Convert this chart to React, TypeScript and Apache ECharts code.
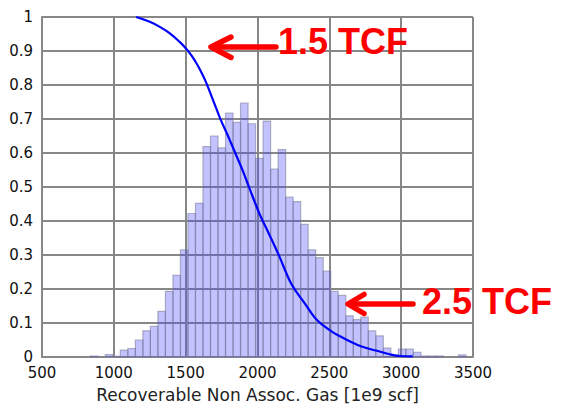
import React, { useEffect, useRef } from "react";
import * as echarts from "echarts";

// Histogram: bins start at BIN_START with width BIN_WIDTH (1e9 scf)
const BIN_START = 836;
const BIN_WIDTH = 52.3;
const binHeights = [
  0.003, 0, 0.007, 0.002, 0.02, 0.025, 0.05, 0.077, 0.09, 0.134,
  0.193, 0.24, 0.315, 0.422, 0.452, 0.619, 0.65, 0.615, 0.717, 0.69,
  0.747, 0.686, 0.584, 0.694, 0.553, 0.61, 0.47, 0.457, 0.39, 0.315,
  0.292, 0.253, 0.193, 0.181, 0.121, 0.11, 0.117, 0.077, 0.062, 0.026,
  0.006, 0.023, 0.023, 0.014, 0.003, 0.003, 0.003, 0, 0, 0.006,
];

// Exceedance curve
const curveX = [
  1155, 1250, 1320, 1390, 1460, 1505, 1540, 1575, 1610, 1645, 1690, 1740,
  1800, 1840, 1900, 1945, 2015, 2060, 2110, 2155, 2220, 2260, 2330, 2400,
  2460, 2520, 2570, 2620, 2730, 2850, 2920, 2990, 3080,
];
const curveY = [
  1.0, 0.986, 0.971, 0.952, 0.926, 0.906, 0.887, 0.864, 0.837, 0.805, 0.756, 0.702,
  0.645, 0.605, 0.545, 0.495, 0.42, 0.38, 0.335, 0.293, 0.228, 0.198, 0.157, 0.115,
  0.092, 0.074, 0.062, 0.051, 0.03, 0.016, 0.008, 0.003, 0.002,
];

const xTicks = { min: 500, max: 3500, interval: 500 };
const yTicks = { min: 0, max: 1, interval: 0.1 };
const xAxisName = "Recoverable Non Assoc. Gas [1e9 scf]";
const annotations = ["1.5 TCF", "2.5 TCF"];

export default function App() {
  const ref = useRef<HTMLDivElement>(null);
  useEffect(() => {
    if (!ref.current) return;
    const chart = echarts.init(ref.current, null, { renderer: "svg" });
    const histData = binHeights.map((h, i) => [
      BIN_START + i * BIN_WIDTH,
      BIN_START + (i + 1) * BIN_WIDTH,
      h,
    ]);
    const lineData = curveX.map((x, i) => [x, curveY[i]]);
    const gridColor = "#878787";
    const labelFont = { fontFamily: "DejaVu Sans", fontSize: 15, lineHeight: 13, color: "#111" };
    const red = "#ff0000";
    const arrowStyle = { stroke: red, lineWidth: 5.5, lineCap: "round", lineJoin: "round", fill: null };
    chart.setOption({
      animation: false,
      backgroundColor: "#ffffff",
      grid: { left: 42, right: 101, top: 17, bottom: 59, show: false },
      xAxis: {
        type: "value",
        min: xTicks.min,
        max: xTicks.max,
        interval: xTicks.interval,
        name: xAxisName,
        nameLocation: "middle",
        nameGap: 29,
        nameTextStyle: { fontFamily: "DejaVu Sans", fontSize: 17, color: "#222" },
        axisLine: { show: true, lineStyle: { color: gridColor, width: 2 } },
        axisTick: { show: false },
        axisLabel: { ...labelFont, margin: 9, formatter: (v: number) => String(v) },
        splitLine: { show: true, lineStyle: { color: gridColor, width: 2 } },
      },
      yAxis: {
        type: "value",
        min: yTicks.min,
        max: yTicks.max,
        interval: yTicks.interval,
        axisLine: { show: true, lineStyle: { color: gridColor, width: 2 } },
        axisTick: { show: false },
        axisLabel: { ...labelFont, margin: 9 },
        splitLine: { show: true, lineStyle: { color: gridColor, width: 2 } },
      },
      series: [
        {
          type: "custom",
          z: 2,
          encode: { x: [0, 1], y: 2 },
          data: histData,
          renderItem: (params: any, api: any) => {
            const h = api.value(2);
            if (!h) return null;
            const p0 = api.coord([api.value(0), h]);
            const p1 = api.coord([api.value(1), 0]);
            return {
              type: "rect",
              shape: { x: p0[0], y: p0[1], width: p1[0] - p0[0], height: p1[1] - p0[1] },
              style: { fill: "rgba(64,64,255,0.32)", stroke: "rgba(120,120,150,0.55)", lineWidth: 1.2 },
            };
          },
        },
        {
          type: "line",
          z: 6,
          data: lineData,
          showSymbol: false,
          smooth: 0.4,
          lineStyle: { color: "#0000ff", width: 2.2 },
        },
      ],
      graphic: [
        { type: "line", z: 10, shape: { x1: 213, y1: 47, x2: 276, y2: 47 }, style: arrowStyle },
        { type: "polyline", z: 10, shape: { points: [[231, 37], [211, 47], [231, 57.5]] }, style: arrowStyle },
        {
          type: "text", z: 10, x: 278, y: 41.5,
          style: { text: annotations[0], font: 'bold 36px "Liberation Sans", Arial, sans-serif', fill: red, verticalAlign: "middle", align: "left" },
        },
        { type: "line", z: 10, shape: { x1: 350, y1: 304, x2: 413, y2: 304 }, style: arrowStyle },
        { type: "polyline", z: 10, shape: { points: [[364, 294.5], [348, 304], [364, 313.5]] }, style: arrowStyle },
        {
          type: "text", z: 10, x: 422, y: 301.5,
          style: { text: annotations[1], font: 'bold 36px "Liberation Sans", Arial, sans-serif', fill: red, verticalAlign: "middle", align: "left" },
        },
      ],
    });
    return () => chart.dispose();
  }, []);
  return (
    <div
      ref={ref}
      style={{ position: "absolute", left: 0, top: 0, width: 574, height: 416, background: "#fff" }}
    />
  );
}
